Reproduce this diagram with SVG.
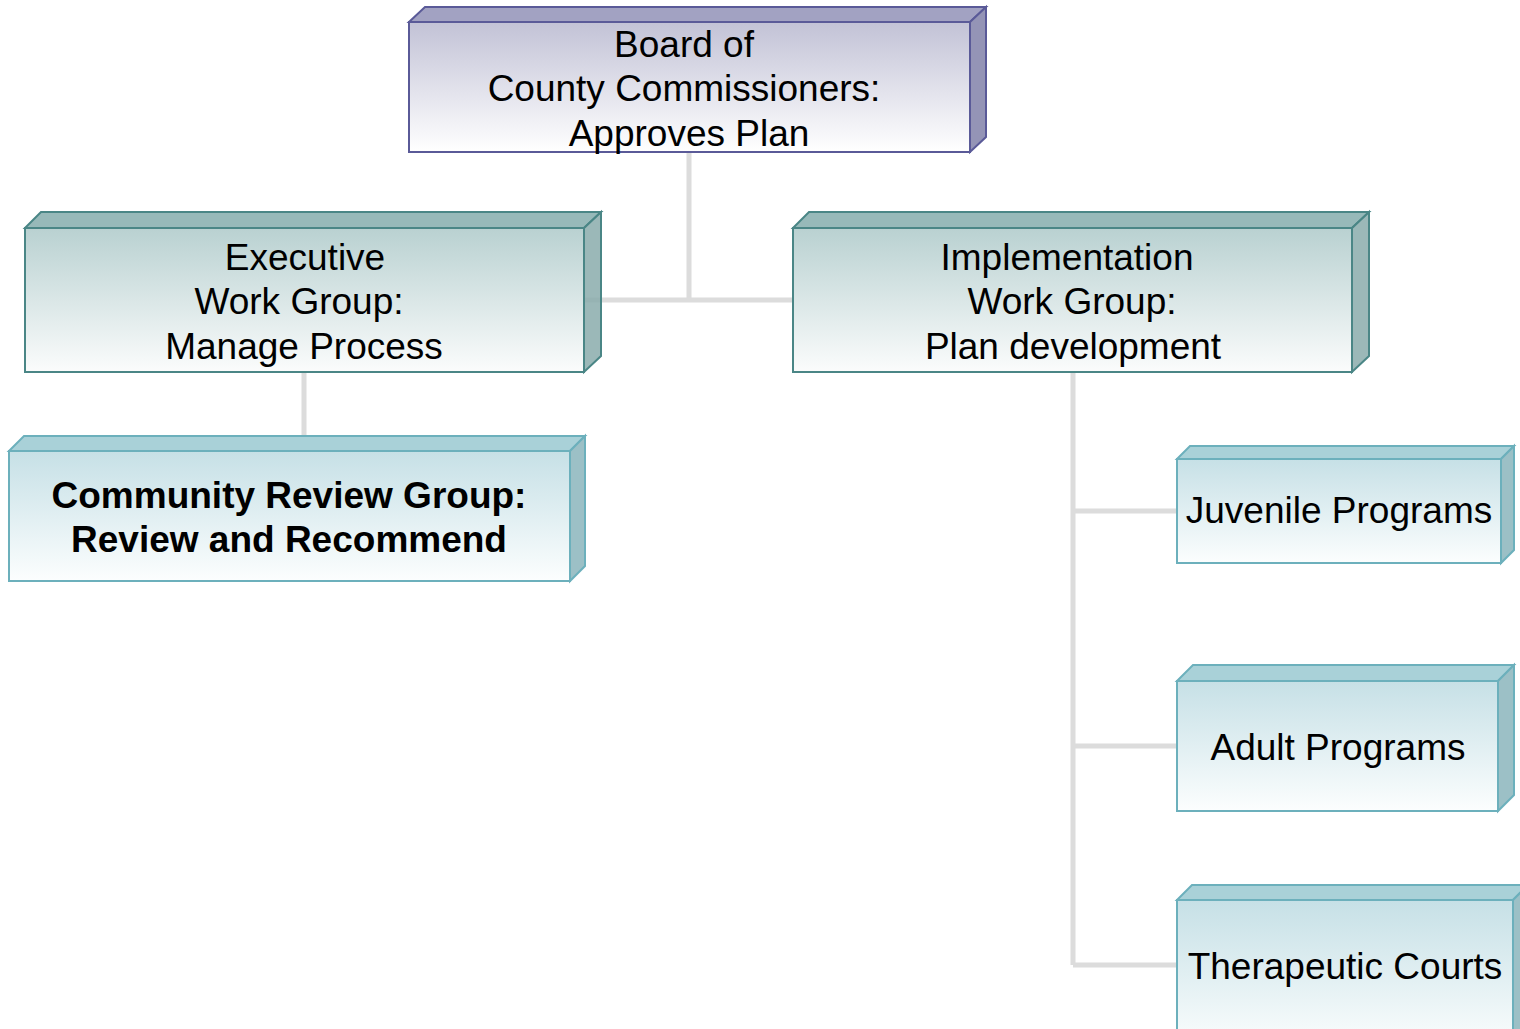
<svg xmlns="http://www.w3.org/2000/svg" width="1520" height="1029" viewBox="0 0 1520 1029">
<defs>
<linearGradient id="gP" x1="0" y1="0" x2="0" y2="1"><stop offset="0" stop-color="#c2c2d6"/><stop offset="1" stop-color="#ffffff"/></linearGradient>
<linearGradient id="gT" x1="0" y1="0" x2="0" y2="1"><stop offset="0" stop-color="#b9d1d1"/><stop offset="1" stop-color="#fbfcfc"/></linearGradient>
<linearGradient id="gC" x1="0" y1="0" x2="0" y2="1"><stop offset="0" stop-color="#c6e0e6"/><stop offset="1" stop-color="#fcfefe"/></linearGradient>
</defs>
<style>
text{font-family:"Liberation Sans",Arial,sans-serif;font-size:37px;fill:#000;text-anchor:middle}
.b{font-weight:bold}
.conn{stroke:#dcdcdc;stroke-width:5;fill:none}
.p{stroke:#5a5a98;stroke-width:2}
.p .front{fill:url(#gP)}
.p .top{fill:#a2a2c2}
.p .side{fill:#9494b6}
.t{stroke:#4a8686;stroke-width:2}
.t .front{fill:url(#gT)}
.t .top{fill:#97b9b9}
.t .side{fill:#8aabab;fill-opacity:0.85}
.c{stroke:#6cb0bc;stroke-width:2}
.c .front{fill:url(#gC)}
.c .top{fill:#a9d1d8}
.c .side{fill:#9cc0c6}
</style>
<g id="connectors">
<path class="conn" d="M689 152V300M584 300H793M304 372V436M1073 372V965M1073 511H1177M1073 746H1177M1073 965H1177"/>
</g>
<g id="board" class="p">
<path class="top" d="M409 22L425 7H986L970 22Z"/>
<path class="side" d="M970 22L986 7V137L970 152Z"/>
<rect class="front" x="409" y="22" width="561" height="130"/>
<g stroke="none"><text x="684" y="57">Board of</text><text x="684" y="101">County Commissioners:</text><text x="689" y="146">Approves Plan</text></g>
</g>
<g id="executive" class="t">
<path class="top" d="M25 228L41 212H601L584 228Z"/>
<rect class="front" x="25" y="228" width="559" height="144"/>
<path class="side" d="M584 228L601 212V356L584 372Z"/>
<g stroke="none"><text x="305" y="270">Executive</text><text x="299" y="314">Work Group:</text><text x="304" y="359">Manage Process</text></g>
</g>
<g id="implementation" class="t">
<path class="top" d="M793 228L809 212H1369L1352 228Z"/>
<rect class="front" x="793" y="228" width="559" height="144"/>
<path class="side" d="M1352 228L1369 212V356L1352 372Z"/>
<g stroke="none"><text x="1067" y="270">Implementation</text><text x="1072" y="314">Work Group:</text><text x="1073" y="359">Plan development</text></g>
</g>
<g id="community" class="c">
<path class="top" d="M9 451L24 436H585L570 451Z"/>
<path class="side" d="M570 451L585 436V566L570 581Z"/>
<rect class="front" x="9" y="451" width="561" height="130"/>
<g stroke="none"><text class="b" x="289" y="508">Community Review Group:</text><text class="b" x="289" y="552">Review and Recommend</text></g>
</g>
<g id="juvenile" class="c">
<path class="top" d="M1177 459L1190 446H1514L1501 459Z"/>
<path class="side" d="M1501 459L1514 446V550L1501 563Z"/>
<rect class="front" x="1177" y="459" width="324" height="104"/>
<text x="1339" y="523" stroke="none">Juvenile Programs</text>
</g>
<g id="adult" class="c">
<path class="top" d="M1177 681L1193 665H1514L1498 681Z"/>
<path class="side" d="M1498 681L1514 665V795L1498 811Z"/>
<rect class="front" x="1177" y="681" width="321" height="130"/>
<text x="1338" y="760" stroke="none">Adult Programs</text>
</g>
<g id="therapeutic" class="c">
<path class="top" d="M1177 900L1192 885H1528L1513 900Z"/>
<path class="side" d="M1513 900L1528 885V1040L1513 1050Z"/>
<rect class="front" x="1177" y="900" width="336" height="150"/>
<text x="1345" y="979" stroke="none">Therapeutic Courts</text>
</g>
</svg>
